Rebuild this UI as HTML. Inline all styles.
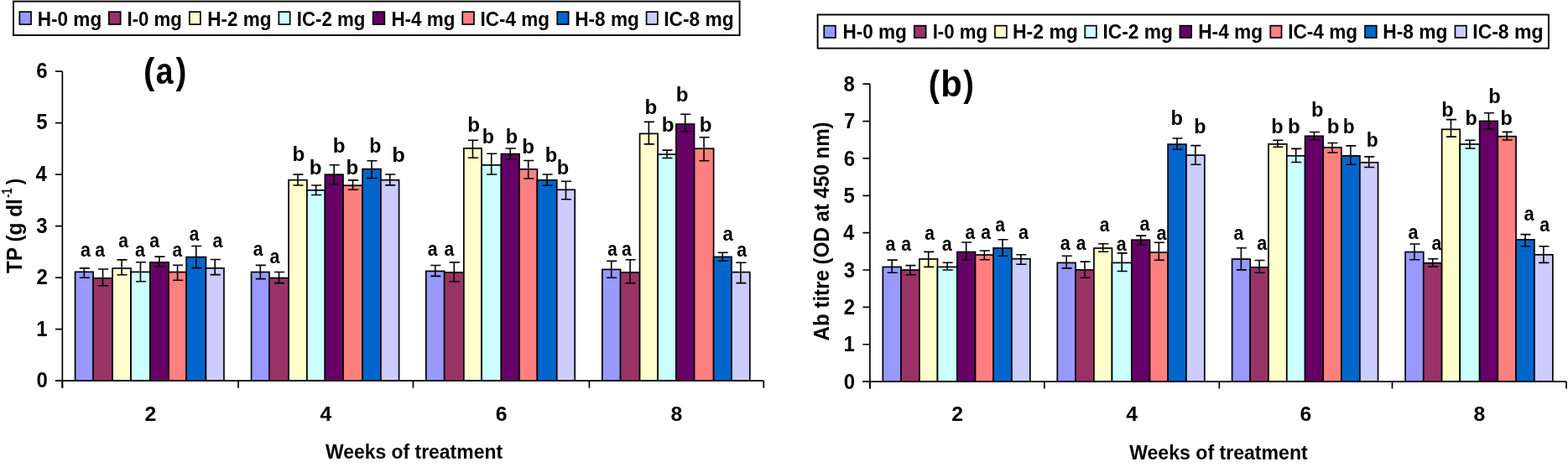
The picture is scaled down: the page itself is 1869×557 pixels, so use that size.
<!DOCTYPE html>
<html><head><meta charset="utf-8"><title>Chart</title>
<style>html,body{margin:0;padding:0;background:#fff;}svg{display:block;}</style></head>
<body>
<svg width="1869" height="557" viewBox="0 0 1869 557" font-family="&apos;Liberation Sans&apos;, Arial, sans-serif" font-weight="bold" fill="#000">
<rect width="1869" height="557" fill="#fff"/>
<rect x="16" y="1.6" width="865.60" height="40.40" fill="#fff" stroke="#000" stroke-width="1.9"/>
<rect x="23.35" y="14.15" width="13.70" height="14.90" fill="#9999FF" stroke="#000" stroke-width="1.7"/>
<text transform="translate(44.78,30.60) scale(0.9093,1)" font-size="24.8" >H-0 mg</text>
<rect x="129.85" y="14.15" width="13.80" height="14.90" fill="#993366" stroke="#000" stroke-width="1.7"/>
<text transform="translate(151.50,30.60) scale(0.8946,1)" font-size="24.8" >I-0 mg</text>
<rect x="225.85" y="14.15" width="13.00" height="14.90" fill="#FFFFCC" stroke="#000" stroke-width="1.7"/>
<text transform="translate(247.28,30.60) scale(0.9068,1)" font-size="24.8" >H-2 mg</text>
<rect x="332.35" y="14.15" width="13.30" height="14.90" fill="#CCFFFF" stroke="#000" stroke-width="1.7"/>
<text transform="translate(353.70,30.60) scale(0.8988,1)" font-size="24.8" >IC-2 mg</text>
<rect x="444.65" y="14.15" width="13.70" height="14.90" fill="#660066" stroke="#000" stroke-width="1.7"/>
<text transform="translate(466.38,30.60) scale(0.9056,1)" font-size="24.8" >H-4 mg</text>
<rect x="551.25" y="14.15" width="13.70" height="14.90" fill="#FF8080" stroke="#000" stroke-width="1.7"/>
<text transform="translate(572.48,30.60) scale(0.9080,1)" font-size="24.8" >IC-4 mg</text>
<rect x="664.25" y="14.15" width="13.40" height="14.90" fill="#0066CC" stroke="#000" stroke-width="1.7"/>
<text transform="translate(685.27,30.60) scale(0.9117,1)" font-size="24.8" >H-8 mg</text>
<rect x="770.55" y="14.15" width="13.30" height="14.90" fill="#CCCCFF" stroke="#000" stroke-width="1.7"/>
<text transform="translate(791.16,30.60) scale(0.9171,1)" font-size="24.8" >IC-8 mg</text>
<rect x="974.6" y="17.5" width="871.30" height="40.10" fill="#fff" stroke="#000" stroke-width="1.9"/>
<rect x="982.25" y="30.65" width="13.70" height="14.30" fill="#9999FF" stroke="#000" stroke-width="1.7"/>
<text transform="translate(1004.38,46.40) scale(0.9105,1)" font-size="24.8" >H-0 mg</text>
<rect x="1089.85" y="30.65" width="13.80" height="14.30" fill="#993366" stroke="#000" stroke-width="1.7"/>
<text transform="translate(1111.70,46.40) scale(0.8946,1)" font-size="24.8" >I-0 mg</text>
<rect x="1185.95" y="30.65" width="13.90" height="14.30" fill="#FFFFCC" stroke="#000" stroke-width="1.7"/>
<text transform="translate(1206.95,46.40) scale(0.9279,1)" font-size="24.8" >H-2 mg</text>
<rect x="1293.25" y="30.65" width="13.60" height="14.30" fill="#CCFFFF" stroke="#000" stroke-width="1.7"/>
<text transform="translate(1314.46,46.40) scale(0.9171,1)" font-size="24.8" >IC-2 mg</text>
<rect x="1406.45" y="30.65" width="13.70" height="14.30" fill="#660066" stroke="#000" stroke-width="1.7"/>
<text transform="translate(1428.17,46.40) scale(0.9167,1)" font-size="24.8" >H-4 mg</text>
<rect x="1514.25" y="30.65" width="13.30" height="14.30" fill="#FF8080" stroke="#000" stroke-width="1.7"/>
<text transform="translate(1535.17,46.40) scale(0.9125,1)" font-size="24.8" >IC-4 mg</text>
<rect x="1627.05" y="30.65" width="13.70" height="14.30" fill="#0066CC" stroke="#000" stroke-width="1.7"/>
<text transform="translate(1648.26,46.40) scale(0.9192,1)" font-size="24.8" >H-8 mg</text>
<rect x="1734.45" y="30.65" width="13.40" height="14.30" fill="#CCCCFF" stroke="#000" stroke-width="1.7"/>
<text transform="translate(1755.25,46.40) scale(0.9262,1)" font-size="24.8" >IC-8 mg</text>
<rect x="89.57" y="324.30" width="21.50" height="129.85" fill="#9999FF" stroke="#000" stroke-width="1.7"/>
<rect x="111.07" y="331.80" width="22.98" height="122.35" fill="#993366" stroke="#000" stroke-width="1.7"/>
<rect x="134.05" y="320.00" width="22.01" height="134.15" fill="#FFFFCC" stroke="#000" stroke-width="1.7"/>
<rect x="156.06" y="324.40" width="22.82" height="129.75" fill="#CCFFFF" stroke="#000" stroke-width="1.7"/>
<rect x="178.88" y="312.90" width="22.16" height="141.25" fill="#660066" stroke="#000" stroke-width="1.7"/>
<rect x="201.04" y="324.50" width="21.09" height="129.65" fill="#FF8080" stroke="#000" stroke-width="1.7"/>
<rect x="222.13" y="306.60" width="23.33" height="147.55" fill="#0066CC" stroke="#000" stroke-width="1.7"/>
<rect x="245.46" y="319.80" width="21.50" height="134.35" fill="#CCCCFF" stroke="#000" stroke-width="1.7"/>
<rect x="299.57" y="324.50" width="21.50" height="129.65" fill="#9999FF" stroke="#000" stroke-width="1.7"/>
<rect x="321.07" y="331.50" width="22.98" height="122.65" fill="#993366" stroke="#000" stroke-width="1.7"/>
<rect x="344.05" y="214.70" width="21.85" height="239.45" fill="#FFFFCC" stroke="#000" stroke-width="1.7"/>
<rect x="365.90" y="226.90" width="21.50" height="227.25" fill="#CCFFFF" stroke="#000" stroke-width="1.7"/>
<rect x="387.40" y="208.20" width="21.60" height="245.95" fill="#660066" stroke="#000" stroke-width="1.7"/>
<rect x="409.00" y="221.20" width="23.13" height="232.95" fill="#FF8080" stroke="#000" stroke-width="1.7"/>
<rect x="432.13" y="201.60" width="21.81" height="252.55" fill="#0066CC" stroke="#000" stroke-width="1.7"/>
<rect x="453.94" y="214.70" width="21.66" height="239.45" fill="#CCCCFF" stroke="#000" stroke-width="1.7"/>
<rect x="507.83" y="323.40" width="21.86" height="130.75" fill="#9999FF" stroke="#000" stroke-width="1.7"/>
<rect x="529.69" y="324.90" width="23.17" height="129.25" fill="#993366" stroke="#000" stroke-width="1.7"/>
<rect x="552.86" y="176.90" width="21.20" height="277.25" fill="#FFFFCC" stroke="#000" stroke-width="1.7"/>
<rect x="574.06" y="196.90" width="23.38" height="257.25" fill="#CCFFFF" stroke="#000" stroke-width="1.7"/>
<rect x="597.44" y="183.60" width="21.60" height="270.55" fill="#660066" stroke="#000" stroke-width="1.7"/>
<rect x="619.04" y="201.80" width="21.35" height="252.35" fill="#FF8080" stroke="#000" stroke-width="1.7"/>
<rect x="640.39" y="214.80" width="23.33" height="239.35" fill="#0066CC" stroke="#000" stroke-width="1.7"/>
<rect x="663.72" y="226.30" width="21.50" height="227.85" fill="#CCCCFF" stroke="#000" stroke-width="1.7"/>
<rect x="717.85" y="321.40" width="21.75" height="132.75" fill="#9999FF" stroke="#000" stroke-width="1.7"/>
<rect x="739.60" y="324.90" width="22.97" height="129.25" fill="#993366" stroke="#000" stroke-width="1.7"/>
<rect x="762.57" y="159.40" width="21.51" height="294.75" fill="#FFFFCC" stroke="#000" stroke-width="1.7"/>
<rect x="784.08" y="184.10" width="21.80" height="270.05" fill="#CCFFFF" stroke="#000" stroke-width="1.7"/>
<rect x="805.88" y="148.00" width="21.65" height="306.15" fill="#660066" stroke="#000" stroke-width="1.7"/>
<rect x="827.53" y="177.20" width="23.08" height="276.95" fill="#FF8080" stroke="#000" stroke-width="1.7"/>
<rect x="850.61" y="306.40" width="21.35" height="147.75" fill="#0066CC" stroke="#000" stroke-width="1.7"/>
<rect x="871.96" y="324.60" width="21.85" height="129.55" fill="#CCCCFF" stroke="#000" stroke-width="1.7"/>
<path d="M100.32 319.90V331.30M94.77 319.90H106.87M94.77 331.30H106.87" stroke="#000" stroke-width="1.6" fill="none"/>
<path d="M122.56 321.00V340.80M117.01 321.00H129.11M117.01 340.80H129.11" stroke="#000" stroke-width="1.6" fill="none"/>
<path d="M145.06 309.90V327.70M139.50 309.90H151.61M139.50 327.70H151.61" stroke="#000" stroke-width="1.6" fill="none"/>
<path d="M167.47 312.80V335.70M161.92 312.80H174.02M161.92 335.70H174.02" stroke="#000" stroke-width="1.6" fill="none"/>
<path d="M189.96 306.10V317.90M184.41 306.10H196.51M184.41 317.90H196.51" stroke="#000" stroke-width="1.6" fill="none"/>
<path d="M211.58 316.20V334.20M206.03 316.20H218.13M206.03 334.20H218.13" stroke="#000" stroke-width="1.6" fill="none"/>
<path d="M233.80 293.50V319.60M228.25 293.50H240.35M228.25 319.60H240.35" stroke="#000" stroke-width="1.6" fill="none"/>
<path d="M256.21 309.50V327.60M250.66 309.50H262.76M250.66 327.60H262.76" stroke="#000" stroke-width="1.6" fill="none"/>
<path d="M310.32 316.40V332.60M304.77 316.40H316.87M304.77 332.60H316.87" stroke="#000" stroke-width="1.6" fill="none"/>
<path d="M332.56 324.50V337.60M327.01 324.50H339.11M327.01 337.60H339.11" stroke="#000" stroke-width="1.6" fill="none"/>
<path d="M354.98 208.10V221.00M349.43 208.10H361.53M349.43 221.00H361.53" stroke="#000" stroke-width="1.6" fill="none"/>
<path d="M376.65 221.00V232.50M371.10 221.00H383.20M371.10 232.50H383.20" stroke="#000" stroke-width="1.6" fill="none"/>
<path d="M398.20 196.70V219.80M392.65 196.70H404.75M392.65 219.80H404.75" stroke="#000" stroke-width="1.6" fill="none"/>
<path d="M420.56 214.90V226.20M415.01 214.90H427.12M415.01 226.20H427.12" stroke="#000" stroke-width="1.6" fill="none"/>
<path d="M443.03 191.80V212.50M437.48 191.80H449.58M437.48 212.50H449.58" stroke="#000" stroke-width="1.6" fill="none"/>
<path d="M464.77 208.00V220.90M459.22 208.00H471.32M459.22 220.90H471.32" stroke="#000" stroke-width="1.6" fill="none"/>
<path d="M518.76 316.50V329.40M513.21 316.50H525.31M513.21 329.40H525.31" stroke="#000" stroke-width="1.6" fill="none"/>
<path d="M541.28 312.90V335.80M535.73 312.90H547.83M535.73 335.80H547.83" stroke="#000" stroke-width="1.6" fill="none"/>
<path d="M563.46 167.20V188.30M557.91 167.20H570.01M557.91 188.30H570.01" stroke="#000" stroke-width="1.6" fill="none"/>
<path d="M585.75 183.20V208.00M580.20 183.20H592.30M580.20 208.00H592.30" stroke="#000" stroke-width="1.6" fill="none"/>
<path d="M608.24 177.00V190.00M602.69 177.00H614.79M602.69 190.00H614.79" stroke="#000" stroke-width="1.6" fill="none"/>
<path d="M629.71 191.50V213.00M624.16 191.50H636.26M624.16 213.00H636.26" stroke="#000" stroke-width="1.6" fill="none"/>
<path d="M652.06 208.00V221.20M646.51 208.00H658.61M646.51 221.20H658.61" stroke="#000" stroke-width="1.6" fill="none"/>
<path d="M674.47 216.20V237.70M668.92 216.20H681.02M668.92 237.70H681.02" stroke="#000" stroke-width="1.6" fill="none"/>
<path d="M728.73 311.40V331.20M723.18 311.40H735.27M723.18 331.20H735.27" stroke="#000" stroke-width="1.6" fill="none"/>
<path d="M751.09 309.80V337.60M745.54 309.80H757.63M745.54 337.60H757.63" stroke="#000" stroke-width="1.6" fill="none"/>
<path d="M773.33 145.40V171.90M767.78 145.40H779.88M767.78 171.90H779.88" stroke="#000" stroke-width="1.6" fill="none"/>
<path d="M794.98 179.10V188.50M789.43 179.10H801.53M789.43 188.50H801.53" stroke="#000" stroke-width="1.6" fill="none"/>
<path d="M816.70 136.30V156.90M811.15 136.30H823.25M811.15 156.90H823.25" stroke="#000" stroke-width="1.6" fill="none"/>
<path d="M839.07 163.80V191.80M833.52 163.80H845.62M833.52 191.80H845.62" stroke="#000" stroke-width="1.6" fill="none"/>
<path d="M861.29 301.30V311.30M855.74 301.30H867.84M855.74 311.30H867.84" stroke="#000" stroke-width="1.6" fill="none"/>
<path d="M882.88 313.20V337.60M877.34 313.20H889.43M877.34 337.60H889.43" stroke="#000" stroke-width="1.6" fill="none"/>
<path d="M74.35 85.03V462.65M66.00 454.15H910.30" stroke="#000" stroke-width="1.7" fill="none"/>
<path d="M66.00 454.15H74.35M66.00 392.63H74.35M66.00 331.11H74.35M66.00 269.59H74.35M66.00 208.07H74.35M66.00 146.55H74.35M66.00 85.03H74.35M74.35 454.15V462.65M284.10 454.15V462.65M492.50 454.15V462.65M702.40 454.15V462.65M910.30 454.15V462.65" stroke="#000" stroke-width="1.7" fill="none"/>
<text transform="translate(43.44,462.14) scale(0.9600,1)" font-size="25.0" >0</text>
<text transform="translate(43.14,400.62) scale(0.9600,1)" font-size="25.0" >1</text>
<text transform="translate(43.44,339.23) scale(0.9600,1)" font-size="25.0" >2</text>
<text transform="translate(43.32,277.55) scale(0.9600,1)" font-size="25.0" >3</text>
<text transform="translate(42.60,216.06) scale(0.9600,1)" font-size="25.0" >4</text>
<text transform="translate(43.14,154.42) scale(0.9600,1)" font-size="25.0" >5</text>
<text transform="translate(43.32,93.02) scale(0.9600,1)" font-size="25.0" >6</text>
<text transform="translate(172.51,502.30) scale(1.0000,1)" font-size="24.8" >2</text>
<text transform="translate(381.39,502.30) scale(1.0000,1)" font-size="24.8" >4</text>
<text transform="translate(590.64,502.30) scale(1.0000,1)" font-size="24.8" >6</text>
<text transform="translate(799.54,502.30) scale(1.0000,1)" font-size="24.8" >8</text>
<text transform="translate(96.05,305.80) scale(0.9190,1)" font-size="23.5" >a</text>
<text transform="translate(113.26,305.80) scale(0.9030,1)" font-size="23.5" >a</text>
<text transform="translate(141.27,294.80) scale(0.8950,1)" font-size="23.5" >a</text>
<text transform="translate(161.06,305.80) scale(0.9110,1)" font-size="23.5" >a</text>
<text transform="translate(178.16,294.80) scale(0.9030,1)" font-size="23.5" >a</text>
<text transform="translate(205.57,305.80) scale(0.8870,1)" font-size="23.5" >a</text>
<text transform="translate(225.67,286.50) scale(0.8870,1)" font-size="23.5" >a</text>
<text transform="translate(253.46,294.80) scale(0.9110,1)" font-size="23.5" >a</text>
<text transform="translate(301.67,305.30) scale(0.8950,1)" font-size="23.5" >a</text>
<text transform="translate(321.46,314.10) scale(0.9110,1)" font-size="23.5" >a</text>
<text transform="translate(348.53,192.40) scale(1.0280,1)" font-size="23.5" >b</text>
<text transform="translate(368.63,207.60) scale(1.0280,1)" font-size="23.5" >b</text>
<text transform="translate(396.63,182.30) scale(1.0280,1)" font-size="23.5" >b</text>
<text transform="translate(412.53,207.50) scale(1.0280,1)" font-size="23.5" >b</text>
<text transform="translate(440.19,182.30) scale(0.9859,1)" font-size="23.5" >b</text>
<text transform="translate(467.24,192.80) scale(1.0870,1)" font-size="23.5" >b</text>
<text transform="translate(509.66,305.20) scale(0.9030,1)" font-size="23.5" >a</text>
<text transform="translate(529.46,305.20) scale(0.9030,1)" font-size="23.5" >a</text>
<text transform="translate(557.33,156.60) scale(1.0280,1)" font-size="23.5" >b</text>
<text transform="translate(574.78,171.40) scale(0.9943,1)" font-size="23.5" >b</text>
<text transform="translate(602.67,171.40) scale(1.0027,1)" font-size="23.5" >b</text>
<text transform="translate(622.33,182.50) scale(1.0280,1)" font-size="23.5" >b</text>
<text transform="translate(649.86,192.50) scale(1.0112,1)" font-size="23.5" >b</text>
<text transform="translate(663.77,207.50) scale(1.0027,1)" font-size="23.5" >b</text>
<text transform="translate(724.28,305.20) scale(0.8790,1)" font-size="23.5" >a</text>
<text transform="translate(741.07,305.20) scale(0.8950,1)" font-size="23.5" >a</text>
<text transform="translate(768.53,135.70) scale(1.0280,1)" font-size="23.5" >b</text>
<text transform="translate(788.63,156.50) scale(1.0280,1)" font-size="23.5" >b</text>
<text transform="translate(805.63,120.70) scale(1.0280,1)" font-size="23.5" >b</text>
<text transform="translate(833.63,156.60) scale(1.0280,1)" font-size="23.5" >b</text>
<text transform="translate(861.44,286.90) scale(0.9430,1)" font-size="23.5" >a</text>
<text transform="translate(878.26,305.60) scale(0.9110,1)" font-size="23.5" >a</text>
<rect x="1052.32" y="318.40" width="21.75" height="136.70" fill="#9999FF" stroke="#000" stroke-width="1.7"/>
<rect x="1074.07" y="322.00" width="21.86" height="133.10" fill="#993366" stroke="#000" stroke-width="1.7"/>
<rect x="1095.93" y="309.00" width="21.55" height="146.10" fill="#FFFFCC" stroke="#000" stroke-width="1.7"/>
<rect x="1117.48" y="318.40" width="23.38" height="136.70" fill="#CCFFFF" stroke="#000" stroke-width="1.7"/>
<rect x="1140.86" y="300.50" width="21.66" height="154.60" fill="#660066" stroke="#000" stroke-width="1.7"/>
<rect x="1162.52" y="304.00" width="21.60" height="151.10" fill="#FF8080" stroke="#000" stroke-width="1.7"/>
<rect x="1184.12" y="295.90" width="21.80" height="159.20" fill="#0066CC" stroke="#000" stroke-width="1.7"/>
<rect x="1205.92" y="308.70" width="21.91" height="146.40" fill="#CCCCFF" stroke="#000" stroke-width="1.7"/>
<rect x="1260.32" y="313.40" width="21.75" height="141.70" fill="#9999FF" stroke="#000" stroke-width="1.7"/>
<rect x="1282.07" y="321.90" width="21.86" height="133.20" fill="#993366" stroke="#000" stroke-width="1.7"/>
<rect x="1303.93" y="296.00" width="21.55" height="159.10" fill="#FFFFCC" stroke="#000" stroke-width="1.7"/>
<rect x="1325.48" y="313.40" width="23.38" height="141.70" fill="#CCFFFF" stroke="#000" stroke-width="1.7"/>
<rect x="1348.86" y="286.20" width="21.66" height="168.90" fill="#660066" stroke="#000" stroke-width="1.7"/>
<rect x="1370.52" y="301.00" width="21.60" height="154.10" fill="#FF8080" stroke="#000" stroke-width="1.7"/>
<rect x="1392.12" y="172.10" width="21.80" height="283.00" fill="#0066CC" stroke="#000" stroke-width="1.7"/>
<rect x="1413.92" y="185.10" width="21.91" height="270.00" fill="#CCCCFF" stroke="#000" stroke-width="1.7"/>
<rect x="1468.57" y="309.00" width="21.61" height="146.10" fill="#9999FF" stroke="#000" stroke-width="1.7"/>
<rect x="1490.18" y="318.80" width="21.75" height="136.30" fill="#993366" stroke="#000" stroke-width="1.7"/>
<rect x="1511.93" y="171.90" width="21.86" height="283.20" fill="#FFFFCC" stroke="#000" stroke-width="1.7"/>
<rect x="1533.79" y="185.80" width="21.80" height="269.30" fill="#CCFFFF" stroke="#000" stroke-width="1.7"/>
<rect x="1555.59" y="162.30" width="21.60" height="292.80" fill="#660066" stroke="#000" stroke-width="1.7"/>
<rect x="1577.19" y="175.90" width="21.66" height="279.20" fill="#FF8080" stroke="#000" stroke-width="1.7"/>
<rect x="1598.85" y="185.80" width="22.06" height="269.30" fill="#0066CC" stroke="#000" stroke-width="1.7"/>
<rect x="1620.91" y="193.80" width="21.65" height="261.30" fill="#CCCCFF" stroke="#000" stroke-width="1.7"/>
<rect x="1675.12" y="300.50" width="21.65" height="154.60" fill="#9999FF" stroke="#000" stroke-width="1.7"/>
<rect x="1696.77" y="313.70" width="21.86" height="141.40" fill="#993366" stroke="#000" stroke-width="1.7"/>
<rect x="1718.63" y="154.30" width="21.60" height="300.80" fill="#FFFFCC" stroke="#000" stroke-width="1.7"/>
<rect x="1740.23" y="172.00" width="23.43" height="283.10" fill="#CCFFFF" stroke="#000" stroke-width="1.7"/>
<rect x="1763.66" y="144.40" width="21.55" height="310.70" fill="#660066" stroke="#000" stroke-width="1.7"/>
<rect x="1785.21" y="162.70" width="21.86" height="292.40" fill="#FF8080" stroke="#000" stroke-width="1.7"/>
<rect x="1807.07" y="285.80" width="21.85" height="169.30" fill="#0066CC" stroke="#000" stroke-width="1.7"/>
<rect x="1828.92" y="303.80" width="21.91" height="151.30" fill="#CCCCFF" stroke="#000" stroke-width="1.7"/>
<path d="M1063.19 310.10V325.30M1057.64 310.10H1069.74M1057.64 325.30H1069.74" stroke="#000" stroke-width="1.6" fill="none"/>
<path d="M1085.00 316.60V327.70M1079.45 316.60H1091.55M1079.45 327.70H1091.55" stroke="#000" stroke-width="1.6" fill="none"/>
<path d="M1106.70 300.40V318.40M1101.15 300.40H1113.25M1101.15 318.40H1113.25" stroke="#000" stroke-width="1.6" fill="none"/>
<path d="M1129.17 313.30V322.00M1123.62 313.30H1135.72M1123.62 322.00H1135.72" stroke="#000" stroke-width="1.6" fill="none"/>
<path d="M1151.69 289.00V309.80M1146.14 289.00H1158.24M1146.14 309.80H1158.24" stroke="#000" stroke-width="1.6" fill="none"/>
<path d="M1173.32 299.00V309.80M1167.77 299.00H1179.87M1167.77 309.80H1179.87" stroke="#000" stroke-width="1.6" fill="none"/>
<path d="M1195.02 285.80V305.20M1189.47 285.80H1201.57M1189.47 305.20H1201.57" stroke="#000" stroke-width="1.6" fill="none"/>
<path d="M1216.88 303.80V315.30M1211.33 303.80H1223.42M1211.33 315.30H1223.42" stroke="#000" stroke-width="1.6" fill="none"/>
<path d="M1271.19 305.20V319.90M1265.64 305.20H1277.74M1265.64 319.90H1277.74" stroke="#000" stroke-width="1.6" fill="none"/>
<path d="M1293.00 312.10V331.20M1287.45 312.10H1299.55M1287.45 331.20H1299.55" stroke="#000" stroke-width="1.6" fill="none"/>
<path d="M1314.70 290.80V300.20M1309.15 290.80H1321.25M1309.15 300.20H1321.25" stroke="#000" stroke-width="1.6" fill="none"/>
<path d="M1337.17 301.90V323.50M1331.62 301.90H1343.72M1331.62 323.50H1343.72" stroke="#000" stroke-width="1.6" fill="none"/>
<path d="M1359.69 281.10V292.30M1354.14 281.10H1366.24M1354.14 292.30H1366.24" stroke="#000" stroke-width="1.6" fill="none"/>
<path d="M1381.32 289.30V310.20M1375.77 289.30H1387.87M1375.77 310.20H1387.87" stroke="#000" stroke-width="1.6" fill="none"/>
<path d="M1403.02 165.00V178.30M1397.47 165.00H1409.57M1397.47 178.30H1409.57" stroke="#000" stroke-width="1.6" fill="none"/>
<path d="M1424.88 173.60V196.30M1419.33 173.60H1431.42M1419.33 196.30H1431.42" stroke="#000" stroke-width="1.6" fill="none"/>
<path d="M1479.38 295.70V321.90M1473.83 295.70H1485.92M1473.83 321.90H1485.92" stroke="#000" stroke-width="1.6" fill="none"/>
<path d="M1501.06 310.50V325.20M1495.51 310.50H1507.61M1495.51 325.20H1507.61" stroke="#000" stroke-width="1.6" fill="none"/>
<path d="M1522.86 167.20V175.20M1517.31 167.20H1529.41M1517.31 175.20H1529.41" stroke="#000" stroke-width="1.6" fill="none"/>
<path d="M1544.69 177.40V193.50M1539.14 177.40H1551.24M1539.14 193.50H1551.24" stroke="#000" stroke-width="1.6" fill="none"/>
<path d="M1566.39 157.50V166.90M1560.84 157.50H1572.94M1560.84 166.90H1572.94" stroke="#000" stroke-width="1.6" fill="none"/>
<path d="M1588.02 170.50V182.00M1582.47 170.50H1594.57M1582.47 182.00H1594.57" stroke="#000" stroke-width="1.6" fill="none"/>
<path d="M1609.88 173.90V196.20M1604.33 173.90H1616.43M1604.33 196.20H1616.43" stroke="#000" stroke-width="1.6" fill="none"/>
<path d="M1631.74 186.90V199.50M1626.19 186.90H1638.29M1626.19 199.50H1638.29" stroke="#000" stroke-width="1.6" fill="none"/>
<path d="M1685.94 291.00V309.80M1680.39 291.00H1692.49M1680.39 309.80H1692.49" stroke="#000" stroke-width="1.6" fill="none"/>
<path d="M1707.70 308.80V318.00M1702.15 308.80H1714.25M1702.15 318.00H1714.25" stroke="#000" stroke-width="1.6" fill="none"/>
<path d="M1729.43 142.60V163.10M1723.88 142.60H1735.98M1723.88 163.10H1735.98" stroke="#000" stroke-width="1.6" fill="none"/>
<path d="M1751.95 167.30V177.00M1746.40 167.30H1758.50M1746.40 177.00H1758.50" stroke="#000" stroke-width="1.6" fill="none"/>
<path d="M1774.43 134.70V153.80M1768.88 134.70H1780.98M1768.88 153.80H1780.98" stroke="#000" stroke-width="1.6" fill="none"/>
<path d="M1796.14 157.40V167.00M1790.59 157.40H1802.69M1790.59 167.00H1802.69" stroke="#000" stroke-width="1.6" fill="none"/>
<path d="M1817.99 279.60V293.70M1812.44 279.60H1824.54M1812.44 293.70H1824.54" stroke="#000" stroke-width="1.6" fill="none"/>
<path d="M1839.88 293.70V313.40M1834.33 293.70H1846.42M1834.33 313.40H1846.42" stroke="#000" stroke-width="1.6" fill="none"/>
<path d="M1036.90 100.22V463.60M1028.40 455.10H1867.00" stroke="#000" stroke-width="1.7" fill="none"/>
<path d="M1028.40 455.10H1036.90M1028.40 410.74H1036.90M1028.40 366.38H1036.90M1028.40 322.02H1036.90M1028.40 277.66H1036.90M1028.40 233.30H1036.90M1028.40 188.94H1036.90M1028.40 144.58H1036.90M1028.40 100.22H1036.90M1036.90 455.10V463.60M1244.90 455.10V463.60M1453.30 455.10V463.60M1659.50 455.10V463.60M1867.00 455.10V463.60" stroke="#000" stroke-width="1.7" fill="none"/>
<text transform="translate(1005.84,463.69) scale(0.9600,1)" font-size="25.0" >0</text>
<text transform="translate(1005.54,419.33) scale(0.9600,1)" font-size="25.0" >1</text>
<text transform="translate(1005.84,375.10) scale(0.9600,1)" font-size="25.0" >2</text>
<text transform="translate(1005.72,330.58) scale(0.9600,1)" font-size="25.0" >3</text>
<text transform="translate(1005.00,286.25) scale(0.9600,1)" font-size="25.0" >4</text>
<text transform="translate(1005.54,241.77) scale(0.9600,1)" font-size="25.0" >5</text>
<text transform="translate(1005.72,197.53) scale(0.9600,1)" font-size="25.0" >6</text>
<text transform="translate(1005.90,153.17) scale(0.9600,1)" font-size="25.0" >7</text>
<text transform="translate(1005.60,108.81) scale(0.9600,1)" font-size="25.0" >8</text>
<text transform="translate(1134.18,501.70) scale(1.0000,1)" font-size="24.8" >2</text>
<text transform="translate(1342.19,501.70) scale(1.0000,1)" font-size="24.8" >4</text>
<text transform="translate(1549.59,501.70) scale(1.0000,1)" font-size="24.8" >6</text>
<text transform="translate(1756.44,501.70) scale(1.0000,1)" font-size="24.8" >8</text>
<text transform="translate(1055.56,298.60) scale(0.9110,1)" font-size="23.5" >a</text>
<text transform="translate(1074.26,298.60) scale(0.9030,1)" font-size="23.5" >a</text>
<text transform="translate(1102.17,285.70) scale(0.8950,1)" font-size="23.5" >a</text>
<text transform="translate(1122.65,298.60) scale(0.9190,1)" font-size="23.5" >a</text>
<text transform="translate(1150.47,285.00) scale(0.8950,1)" font-size="23.5" >a</text>
<text transform="translate(1169.17,285.00) scale(0.8950,1)" font-size="23.5" >a</text>
<text transform="translate(1186.37,275.70) scale(0.8950,1)" font-size="23.5" >a</text>
<text transform="translate(1214.05,285.00) scale(0.9190,1)" font-size="23.5" >a</text>
<text transform="translate(1263.65,297.90) scale(0.9190,1)" font-size="23.5" >a</text>
<text transform="translate(1282.67,297.90) scale(0.8950,1)" font-size="23.5" >a</text>
<text transform="translate(1310.67,275.70) scale(0.8950,1)" font-size="23.5" >a</text>
<text transform="translate(1330.66,298.50) scale(0.9110,1)" font-size="23.5" >a</text>
<text transform="translate(1358.45,275.40) scale(0.9190,1)" font-size="23.5" >a</text>
<text transform="translate(1378.55,285.50) scale(0.9190,1)" font-size="23.5" >a</text>
<text transform="translate(1395.46,148.80) scale(1.0112,1)" font-size="23.5" >b</text>
<text transform="translate(1423.28,158.50) scale(0.9943,1)" font-size="23.5" >b</text>
<text transform="translate(1470.56,285.70) scale(0.9030,1)" font-size="23.5" >a</text>
<text transform="translate(1498.15,298.30) scale(0.9190,1)" font-size="23.5" >a</text>
<text transform="translate(1515.27,158.60) scale(1.0027,1)" font-size="23.5" >b</text>
<text transform="translate(1535.03,158.60) scale(1.0280,1)" font-size="23.5" >b</text>
<text transform="translate(1563.06,138.80) scale(1.0112,1)" font-size="23.5" >b</text>
<text transform="translate(1581.73,158.60) scale(1.0280,1)" font-size="23.5" >b</text>
<text transform="translate(1600.72,158.50) scale(0.9690,1)" font-size="23.5" >b</text>
<text transform="translate(1628.72,174.60) scale(0.9690,1)" font-size="23.5" >b</text>
<text transform="translate(1678.55,285.00) scale(0.9190,1)" font-size="23.5" >a</text>
<text transform="translate(1706.47,297.90) scale(0.8950,1)" font-size="23.5" >a</text>
<text transform="translate(1718.37,138.60) scale(1.0027,1)" font-size="23.5" >b</text>
<text transform="translate(1746.38,148.70) scale(0.9943,1)" font-size="23.5" >b</text>
<text transform="translate(1774.36,122.80) scale(1.0112,1)" font-size="23.5" >b</text>
<text transform="translate(1788.48,148.70) scale(0.9943,1)" font-size="23.5" >b</text>
<text transform="translate(1816.54,262.70) scale(0.9350,1)" font-size="23.5" >a</text>
<text transform="translate(1835.16,275.60) scale(0.9110,1)" font-size="23.5" >a</text>
<text transform="translate(170.88,100.40) scale(0.8988,1)" font-size="44.9" >(</text>
<text transform="translate(185.78,100.40) scale(0.8323,1)" font-size="44.9" >a</text>
<text transform="translate(209.40,100.40) scale(0.8591,1)" font-size="44.9" >)</text>
<text transform="translate(1106.82,114.90) scale(0.8969,1)" font-size="44.2" >(</text>
<text transform="translate(1121.18,114.90) scale(0.9453,1)" font-size="44.2" >b</text>
<text transform="translate(1148.31,114.90) scale(0.8565,1)" font-size="44.2" >)</text>
<text transform="translate(387.94,546.80) scale(0.9555,1)" font-size="24.0" >Weeks of treatment</text>
<text transform="translate(1346.14,547.80) scale(0.9623,1)" font-size="24.0" >Weeks of treatment</text>
<text transform="translate(25.90,326.04) rotate(-90) scale(0.9744,1)" font-size="25.0">TP (g dl</text>
<text transform="translate(14.00,235.80) rotate(-90) scale(0.7433,1)" font-size="16.9">-1</text>
<text transform="translate(26.00,220.25) rotate(-90) scale(0.8749,1)" font-size="24.9">)</text>
<g transform="translate(987.7,406.40) rotate(-90) scale(0.9639,1)"><text font-size="25.0">Ab titre (OD at 450 nm)</text></g>
</svg>
</body></html>
